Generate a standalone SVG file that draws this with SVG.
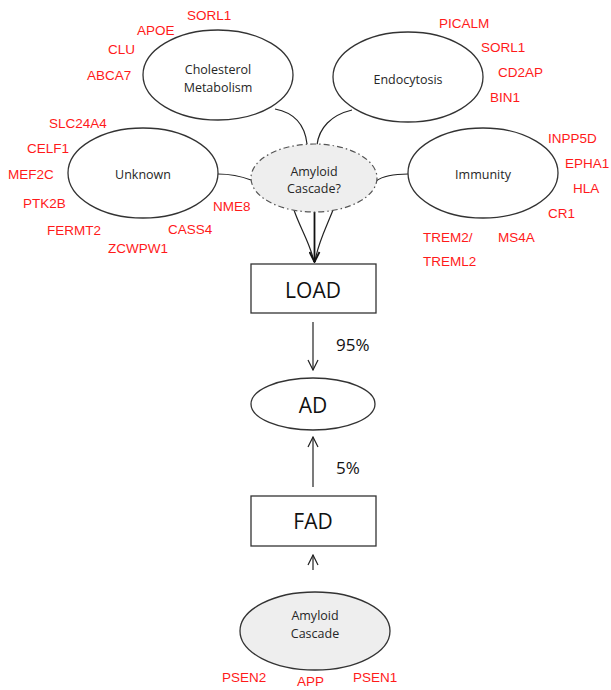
<svg xmlns="http://www.w3.org/2000/svg" width="611" height="690" viewBox="0 0 611 690">
<style>
.bg{fill:#ffffff}
.ell{fill:#ffffff;stroke:#333333;stroke-width:1.3}
.gray{fill:#eeeeee;stroke:#333333;stroke-width:1.3}
.dash{fill:#eeeeee;stroke:#555555;stroke-width:1.2;stroke-dasharray:6 3 1.5 3}
.box{fill:#ffffff;stroke:#333333;stroke-width:1.3}
.lbl{font-family:"Open Sans","Liberation Sans",sans-serif;font-size:12.5px;fill:#262626;text-anchor:middle;dominant-baseline:central}
.big{font-family:"Open Sans","Liberation Sans",sans-serif;font-size:21px;fill:#111111;text-anchor:middle;dominant-baseline:central}
.pct{font-family:"Open Sans","Liberation Sans",sans-serif;font-size:17px;fill:#111111;dominant-baseline:central}
.gene{font-family:"Liberation Sans",sans-serif;font-size:13.5px;fill:#ff1a1a;dominant-baseline:central}
.con{fill:none;stroke:#222222;stroke-width:1.2}
.thick{fill:none;stroke:#111111;stroke-width:1.8}
</style>
<defs>
<marker id="open" viewBox="0 0 12 12" refX="11" refY="6" markerWidth="12" markerHeight="12" markerUnits="userSpaceOnUse" orient="auto">
<path d="M1,1 L11,6 L1,11" fill="none" stroke="#222222" stroke-width="1.2"/>
</marker>
<marker id="openb" viewBox="0 0 12 12" refX="11" refY="6" markerWidth="12" markerHeight="12" markerUnits="userSpaceOnUse" orient="auto">
<path d="M1,1 L11,6 L1,11" fill="none" stroke="#111111" stroke-width="1.8"/>
</marker>
</defs>
<rect class="bg" x="0" y="0" width="611" height="690"/>

<g id="connectors">
<path class="con" d="M275,109 C296,113 305,126 307,144"/>
<path class="con" d="M352,110 C331,115 319,128 317,145"/>
<path class="con" d="M218,174 C233,174 243,177 251,180"/>
<path class="con" d="M408,174 C393,174 383,176 376,181"/>
<path class="con" d="M294,210 C300,228 311,245 314,262"/>
<path class="con" d="M333,210 C326,228 317,245 315,262"/>
<path class="thick" d="M314.5,212 L314.5,262" marker-end="url(#openb)"/>
<path class="con" d="M313,322 L313,370" marker-end="url(#open)"/>
<path class="con" d="M313,487 L313,437" marker-end="url(#open)"/>
<path class="con" d="M313,570 L313,555" marker-end="url(#open)"/>
</g>

<g id="cholesterol">
<ellipse class="ell" cx="218" cy="75" rx="75" ry="45"/>
<text class="lbl" x="218" y="69">Cholesterol</text>
<text class="lbl" x="218" y="87">Metabolism</text>
<text class="gene" x="187" y="15">SORL1</text>
<text class="gene" x="137" y="30">APOE</text>
<text class="gene" x="108" y="49">CLU</text>
<text class="gene" x="87" y="75">ABCA7</text>
</g>

<g id="endocytosis">
<ellipse class="ell" cx="408" cy="77" rx="75" ry="45"/>
<text class="lbl" x="408" y="79">Endocytosis</text>
<text class="gene" x="439" y="23">PICALM</text>
<text class="gene" x="481" y="47">SORL1</text>
<text class="gene" x="498" y="72">CD2AP</text>
<text class="gene" x="490" y="97">BIN1</text>
</g>

<g id="unknown">
<ellipse class="ell" cx="143" cy="173" rx="75" ry="45"/>
<text class="lbl" x="143" y="174">Unknown</text>
<text class="gene" x="49" y="123">SLC24A4</text>
<text class="gene" x="27" y="148">CELF1</text>
<text class="gene" x="8" y="174">MEF2C</text>
<text class="gene" x="23" y="203">PTK2B</text>
<text class="gene" x="47" y="230">FERMT2</text>
<text class="gene" x="108" y="248">ZCWPW1</text>
<text class="gene" x="168" y="229">CASS4</text>
<text class="gene" x="213" y="206">NME8</text>
</g>

<g id="immunity">
<ellipse class="ell" cx="483" cy="173" rx="75" ry="45"/>
<text class="lbl" x="483" y="174">Immunity</text>
<text class="gene" x="548" y="138">INPP5D</text>
<text class="gene" x="565" y="163">EPHA1</text>
<text class="gene" x="573" y="188">HLA</text>
<text class="gene" x="548" y="213">CR1</text>
<text class="gene" x="423" y="237">TREM2/</text>
<text class="gene" x="423" y="261">TREML2</text>
<text class="gene" x="498" y="237">MS4A</text>
</g>

<g id="amyloid-q">
<ellipse class="dash" cx="314" cy="178" rx="63" ry="34"/>
<text class="lbl" x="314" y="171">Amyloid</text>
<text class="lbl" x="314" y="188">Cascade?</text>
</g>

<g id="load">
<rect class="box" x="251" y="264" width="125" height="49"/>
<text class="big" x="313" y="290">LOAD</text>
</g>

<text class="pct" x="336" y="344">95%</text>

<g id="ad">
<ellipse class="ell" cx="313" cy="404" rx="62" ry="26"/>
<text class="big" x="313" y="405">AD</text>
</g>

<text class="pct" x="336" y="467">5%</text>

<g id="fad">
<rect class="box" x="251" y="496" width="125" height="50"/>
<text class="big" x="313" y="521">FAD</text>
</g>

<g id="amyloid">
<ellipse class="gray" cx="315" cy="631" rx="75" ry="39"/>
<text class="lbl" x="315" y="615">Amyloid</text>
<text class="lbl" x="315" y="633">Cascade</text>
<text class="gene" x="222" y="677">PSEN2</text>
<text class="gene" x="297" y="681">APP</text>
<text class="gene" x="353" y="677">PSEN1</text>
</g>
</svg>
